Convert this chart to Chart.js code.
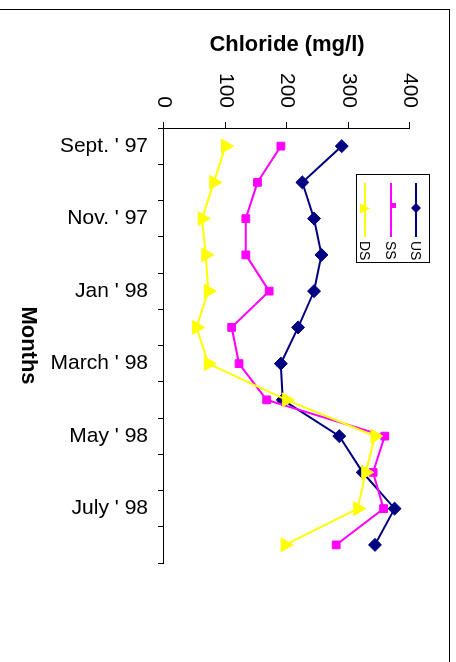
<!DOCTYPE html>
<html>
<head>
<meta charset="utf-8">
<script src="https://cdn.jsdelivr.net/npm/chart.js@4/dist/chart.umd.min.js"></script>
<style>
  html, body { margin: 0; padding: 0; background: #fff; }
  body { width: 456px; height: 662px; position: relative; overflow: hidden; }
  #frame { position: absolute; left: -5px; top: 9px; width: 455px; height: 700px;
           box-sizing: border-box; border-top: 1px solid #000; border-right: 1px solid #000; }
  #wrap { position: absolute; left: 0; top: 0; width: 662px; height: 456px;
          transform-origin: 0 0; transform: translate(456px, 0) rotate(90deg); }
</style>
</head>
<body>
<div id="frame"></div>
<div id="wrap"><canvas id="c" width="662" height="456"></canvas></div>
<script>
// Months (categories)
const categories = ["Sept. '97", "Oct. '97", "Nov. '97", "Dec. '97", "Jan '98", "Feb '98",
                    "March '98", "April '98", "May '98", "June '98", "July '98", "Aug '98"];
// Tick labels shown on the month axis
const tickLabels = ["Sept. ' 97", "", "Nov. ' 97", "", "Jan ' 98", "", "March ' 98", "", "May ' 98", "", "July ' 98", ""];
// Chloride (mg/l)
const usValues = [289, 225, 244, 256, 244, 218, 190, 193, 285, 323, 375, 343];
const ssValues = [190, 152, 133, 133, 171, 110, 122, 167, 359, 340, 357, 280];
const dsValues = [100, 81, 62, 68, 72, 53, 72, 199, 343, 328, 315, 197];
// Value axis
const valueMin = 0, valueMax = 400, valueStep = 100;
const seriesNames = ["US", "SS", "DS"];

const FONT = "'Liberation Sans', Arial, sans-serif";

const legendPlugin = {
  id: 'excelLegend',
  afterDraw(chart) {
    const ctx = chart.ctx;
    ctx.save();
    // legend box
    ctx.strokeStyle = '#000';
    ctx.lineWidth = 1;
    ctx.strokeRect(174.5, 26.5, 88, 73);
    const rows = [40, 65, 91];
    chart.data.datasets.forEach((ds, i) => {
      const y = rows[i];
      ctx.strokeStyle = ds.borderColor;
      ctx.lineWidth = 2;
      ctx.beginPath();
      ctx.moveTo(183, y);
      ctx.lineTo(237, y);
      ctx.stroke();
      ctx.fillStyle = ds.borderColor;
      ctx.beginPath();
      if (ds.pointStyle === 'rectRot') {
        ctx.moveTo(208, y - 5); ctx.lineTo(213, y); ctx.lineTo(208, y + 5); ctx.lineTo(203, y);
        ctx.closePath(); ctx.fill();
      } else if (ds.pointStyle === 'rect') {
        ctx.fillRect(203, y - 5, 5, 5);
      } else {
        ctx.moveTo(208.5, y - 5); ctx.lineTo(213.5, y + 5); ctx.lineTo(203.5, y + 5);
        ctx.closePath(); ctx.fill();
      }
      ctx.fillStyle = '#000';
      ctx.font = '14px ' + FONT;
      ctx.textAlign = 'left';
      ctx.textBaseline = 'middle';
      ctx.fillText(ds.label, 241, y + 1);
    });
    ctx.restore();
  }
};

const tickFont = { family: FONT, size: 21 };
const titleFont = { family: FONT, size: 22, weight: 'bold' };

new Chart(document.getElementById('c'), {
  type: 'line',
  data: {
    labels: categories,
    datasets: [
      { label: seriesNames[0], data: usValues, borderColor: '#000080', backgroundColor: '#000080',
        pointStyle: 'rectRot', pointRadius: 6.5, pointBorderWidth: 1, borderWidth: 2, order: 2 },
      { label: seriesNames[1], data: ssValues, borderColor: '#FF00FF', backgroundColor: '#FF00FF',
        pointStyle: 'rect', pointRadius: 5.5, pointBorderWidth: 1, borderWidth: 2, order: 1 },
      { label: seriesNames[2], data: dsValues, borderColor: '#FFFF00', backgroundColor: '#FFFF00',
        pointStyle: 'triangle', pointRadius: 8, pointBorderWidth: 1, borderWidth: 2, order: 0 }
    ]
  },
  options: {
    responsive: false,
    animation: false,
    events: [],
    layout: { padding: { left: 0, right: 99, top: 46, bottom: 0 } },
    plugins: { legend: { display: false }, tooltip: { enabled: false } },
    elements: { line: { tension: 0 } },
    scales: {
      x: {
        type: 'category',
        offset: true,
        grid: { offset: true, drawOnChartArea: false, drawTicks: true, tickLength: 6, color: '#000' },
        border: { display: true, color: '#000', width: 1 },
        ticks: { autoSkip: false, minRotation: 90, maxRotation: 90, padding: 10, color: '#000',
                 font: tickFont, callback: (v, i) => tickLabels[i] },
        title: { display: true, text: 'Months', color: '#000', font: titleFont, padding: { top: 0, bottom: 15 } },
        afterFit: (s) => { s.height = 164; }
      },
      y: {
        min: valueMin, max: valueMax,
        grid: { drawOnChartArea: false, drawTicks: true, tickLength: 6, color: '#000' },
        border: { display: true, color: '#000', width: 1 },
        ticks: { stepSize: valueStep, padding: 14, color: '#000', font: tickFont },
        title: { display: true, text: 'Chloride (mg/l)', color: '#000', font: titleFont, padding: { top: 32, bottom: 0 } },
        afterFit: (s) => { s.width = 128; }
      }
    }
  },
  plugins: [legendPlugin]
});
</script>
</body>
</html>
